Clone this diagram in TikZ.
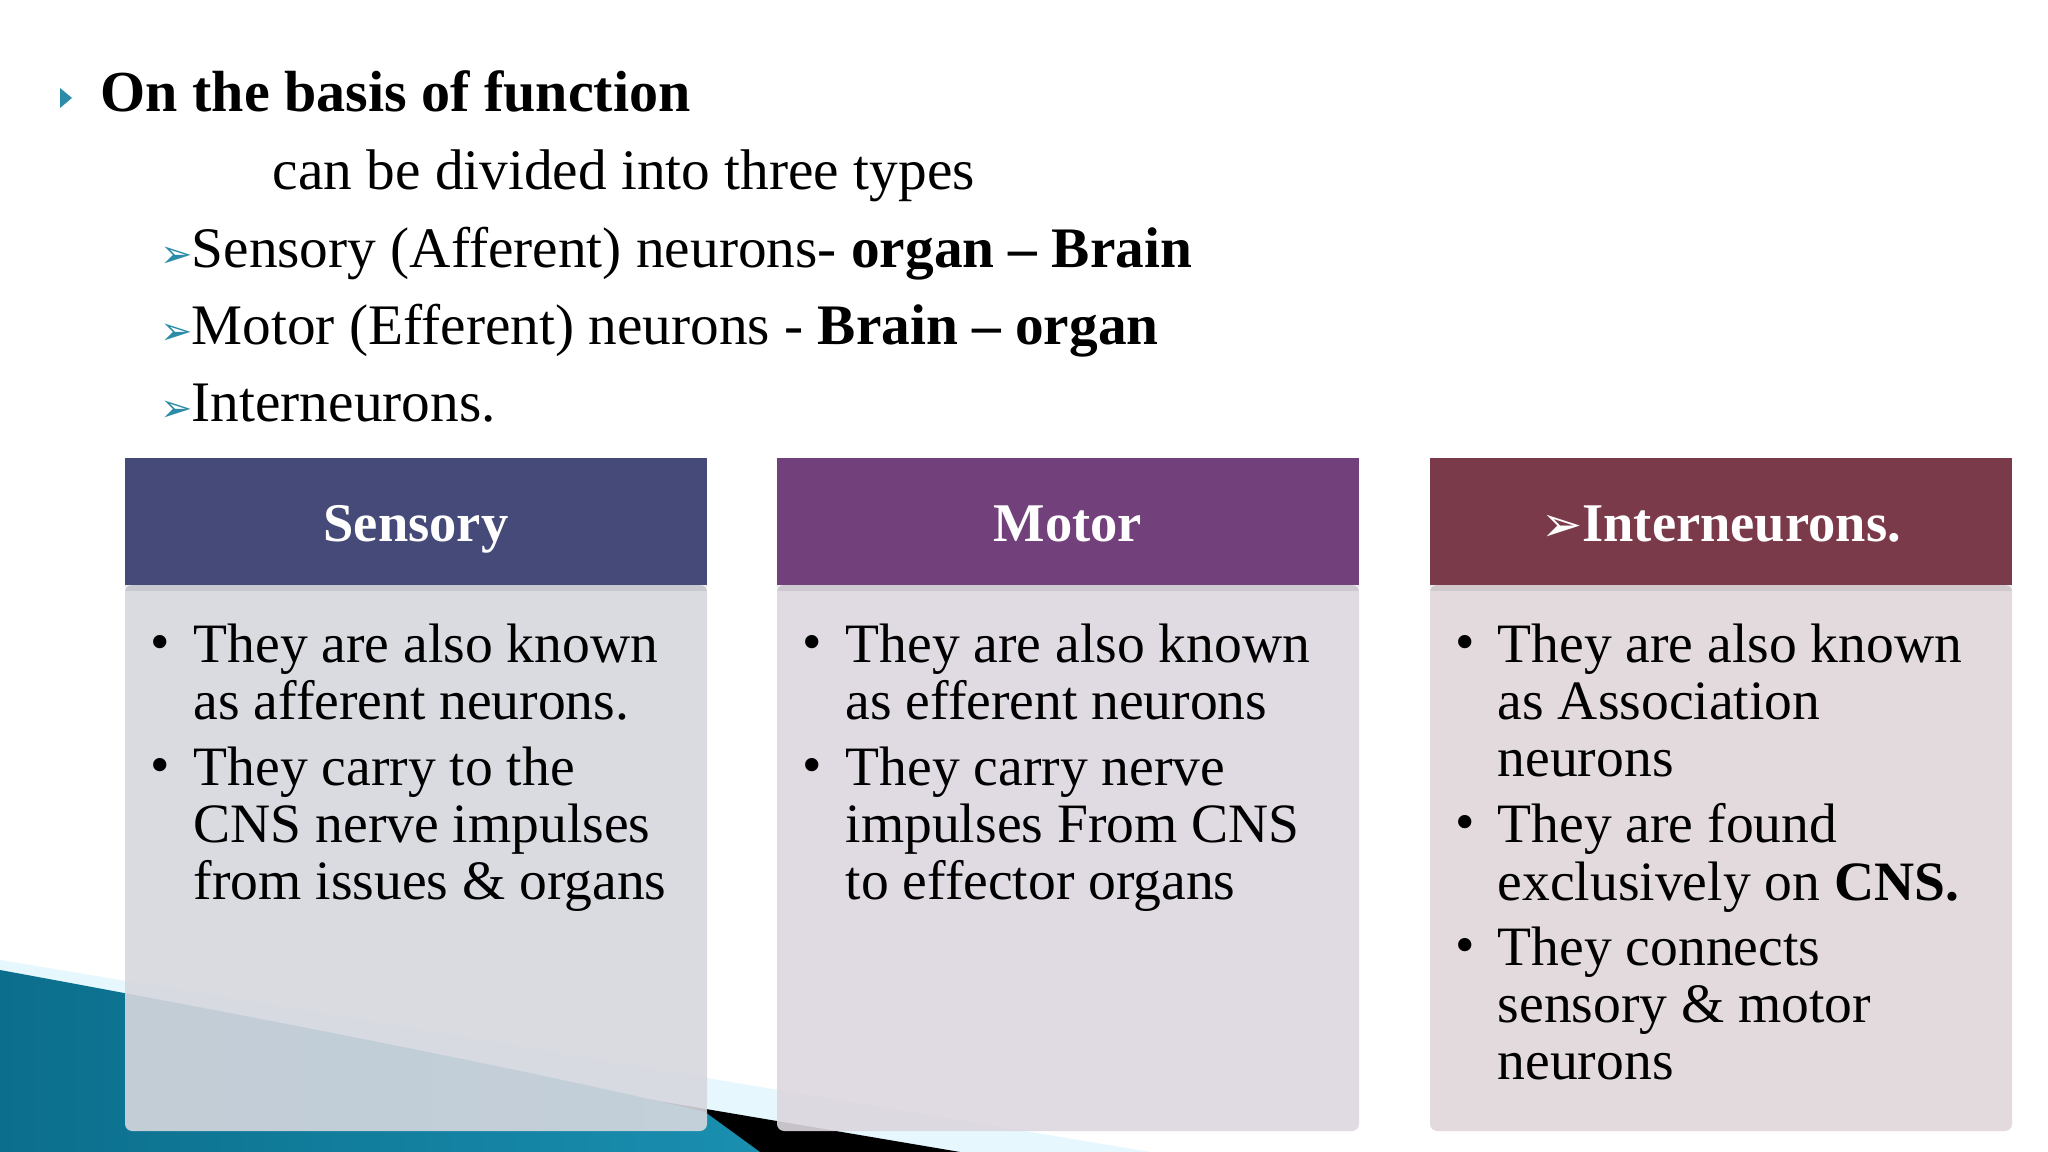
\documentclass[tikz,border=0pt]{standalone}
\usepackage{fontspec}
\setmainfont{Liberation Serif}
\newfontfamily\dejavu{DejaVu Sans}
\begin{document}
\begin{tikzpicture}[x=0.01cm,y=-0.01cm,
  txt/.style={anchor=base west,inner sep=0pt,font=\fontsize{16.3}{17}\selectfont},
  hdr/.style={anchor=base,inner sep=0pt,text=white,font=\fontsize{15.5}{16}\selectfont\bfseries},
  btxt/.style={anchor=north west,inner sep=0pt,align=left,font=\fontsize{15.8}{16.3}\selectfont},
  dot/.style={anchor=base west,inner sep=0pt,font=\fontsize{15.8}{16.3}\selectfont}]
\definecolor{teal1}{HTML}{1A8FB0}
\definecolor{teal2}{HTML}{0B6E8C}
\definecolor{c1}{HTML}{454A78}
\definecolor{c2}{HTML}{72407A}
\definecolor{c3}{HTML}{7B3A4A}
\definecolor{b1}{HTML}{D6D7DE}
\definecolor{b2}{HTML}{DDD6DF}
\definecolor{b3}{HTML}{E0D6DB}
\definecolor{arrowc}{HTML}{2C8CA8}
\useasboundingbox (0,0) rectangle (2048,1152);
\fill[white] (0,0) rectangle (2048,1152);
% swoosh
\fill[cyan!10!white] (0,960) -- (1150,1152) -- (0,1152) -- cycle;
\fill[black] (0,990) -- (700,1108) -- (960,1152) -- (0,1152) -- cycle;
\shade[left color=teal2,right color=teal1] (0,970) .. controls (300,1025) and (550,1075) .. (705,1112) -- (760,1152) -- (0,1152) -- cycle;
% title
\fill[arrowc] (60,88) -- (72,98) -- (60,108) -- cycle;
\node[txt,font=\fontsize{16.5}{18}\selectfont\bfseries] (t0) at (100,112) {On the basis of function};
\node[txt] (t1) at (272,190) {can be divided into three types};
\node[txt] (a1) at (160,268) {\color{arrowc}\dejavu\fontsize{11}{11}\selectfont ➢};
\node[txt] (t2) at (191,268) {Sensory (Afferent) neurons- \textbf{organ – Brain}};
\node[txt] (a2) at (160,345) {\color{arrowc}\dejavu\fontsize{11}{11}\selectfont ➢};
\node[txt] (t3) at (191,345) {Motor (Efferent) neurons - \textbf{Brain – organ}};
\node[txt] (a3) at (160,422) {\color{arrowc}\dejavu\fontsize{11}{11}\selectfont ➢};
\node[txt] (t4) at (191,422) {Interneurons.};
% boxes
\foreach \x/\c/\b in {125/c1/b1,777/c2/b2,1430/c3/b3}{
  \fill[\b,opacity=0.9,rounded corners=2] (\x,585) rectangle ++(582,546);
  \fill[\c] (\x,458) rectangle ++(582,127);
  \fill[black,opacity=0.08] (\x,585) rectangle ++(582,6);
}
\node[hdr] (h1) at (416,542) {Sensory};
\node[hdr] (h2) at (1068,542) {Motor};
\node[hdr] (h3) at (1721,542) {{\dejavu\fontsize{14}{14}\selectfont ➢}Interneurons.};
% sensory
\node[dot] (s1d) at (150,660) {•};
\node[btxt] (s1) at (193,623) {They are also known\\as afferent neurons.};
\node[dot] (s2d) at (150,783) {•};
\node[btxt] (s2) at (193,746) {They carry to the\\CNS nerve impulses\\from issues \& organs};
% motor
\node[dot] (m1d) at (802,660) {•};
\node[btxt] (m1) at (845,623) {They are also known\\as efferent neurons};
\node[dot] (m2d) at (802,783) {•};
\node[btxt] (m2) at (845,746) {They carry nerve\\impulses From CNS\\to effector organs};
% inter
\node[dot] (i1d) at (1455,660) {•};
\node[btxt] (i1) at (1497,623) {They are also known\\as Association\\neurons};
\node[dot] (i2d) at (1455,840) {•};
\node[btxt] (i2) at (1497,803) {They are found\\exclusively on \textbf{CNS.}};
\node[dot] (i3d) at (1455,963) {•};
\node[btxt] (i3) at (1497,926) {They connects\\sensory \& motor\\neurons};
\end{tikzpicture}
\end{document}
